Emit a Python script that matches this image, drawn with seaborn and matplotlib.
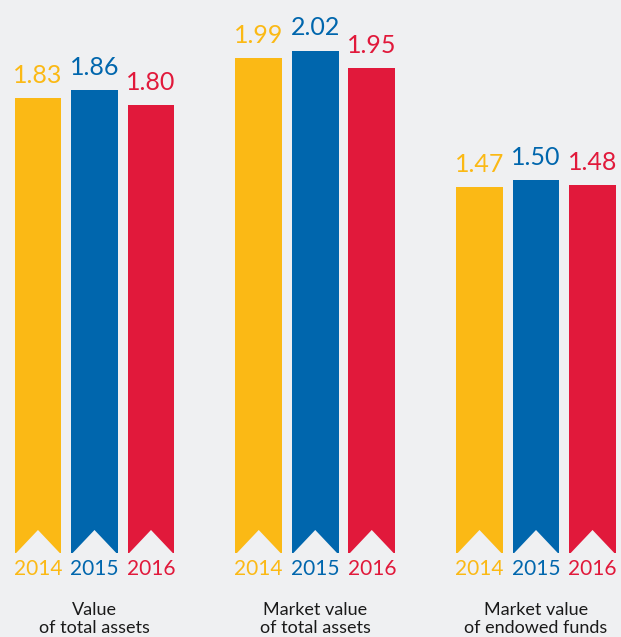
import pandas as pd
import matplotlib.pyplot as plt
from matplotlib.patches import Polygon
import seaborn as sns

# chart data
categories = ["Value\nof total assets", "Market value\nof total assets", "Market value\nof endowed funds"]
years = ["2014", "2015", "2016"]
values_2014 = [1.83, 1.99, 1.47]
values_2015 = [1.86, 2.02, 1.50]
values_2016 = [1.80, 1.95, 1.48]
year_colors = ["#fbb915", "#0066ad", "#e1193b"]

bg = "#eff0f2"

df = pd.DataFrame({
    "category": categories * 3,
    "year": [y for y in years for _ in categories],
    "value": values_2014 + values_2015 + values_2016,
})

sns.set_style("white")
plt.rcParams["font.family"] = ["Lato", "DejaVu Sans"]

fig = plt.figure(figsize=(6.21, 6.37), dpi=100, facecolor=bg)
ax = fig.add_axes([0, 0.1319, 1, 0.8681])
ax.set_facecolor(bg)

sns.barplot(data=df, x="category", y="value", hue="year", hue_order=years,
            palette=dict(zip(years, year_colors)), width=0.768, gap=0.17,
            saturation=1, linewidth=0, errorbar=None, legend=False, ax=ax)

y0, y1 = 0, 2.2235
ax.set_ylim(y0, y1)
ax.set_xlim(-0.428, 2.385)
sns.despine(ax=ax, left=True, bottom=True)
ax.set_yticks([])
ax.set_xlabel("")
ax.set_ylabel("")
ax.tick_params(axis="x", length=0, pad=35, labelsize=13, colors="#1a1a1a")

# notch height ~23 px in data units
notch = 23 * (y1 - y0) / (fig.get_figheight() * fig.dpi * 0.8681)

for container, color, year in zip(ax.containers, year_colors, years):
    ax.bar_label(container, fmt="%.2f", padding=8, color=color, fontsize=18)
    for p in container.patches:
        x0, w = p.get_x(), p.get_width()
        tri = Polygon([(x0 - 0.003, y0 - 0.01), (x0 + w / 2, y0 + notch), (x0 + w + 0.003, y0 - 0.01)],
                      closed=True, facecolor=bg, edgecolor="none", zorder=5)
        ax.add_patch(tri)
        ax.annotate(year, xy=(x0 + w / 2, 0), xycoords=("data", "axes fraction"),
                    xytext=(0, -4), textcoords="offset points", ha="center", va="top",
                    color=color, fontsize=15, annotation_clip=False)

plt.savefig("out.png", dpi=100, facecolor=bg)
